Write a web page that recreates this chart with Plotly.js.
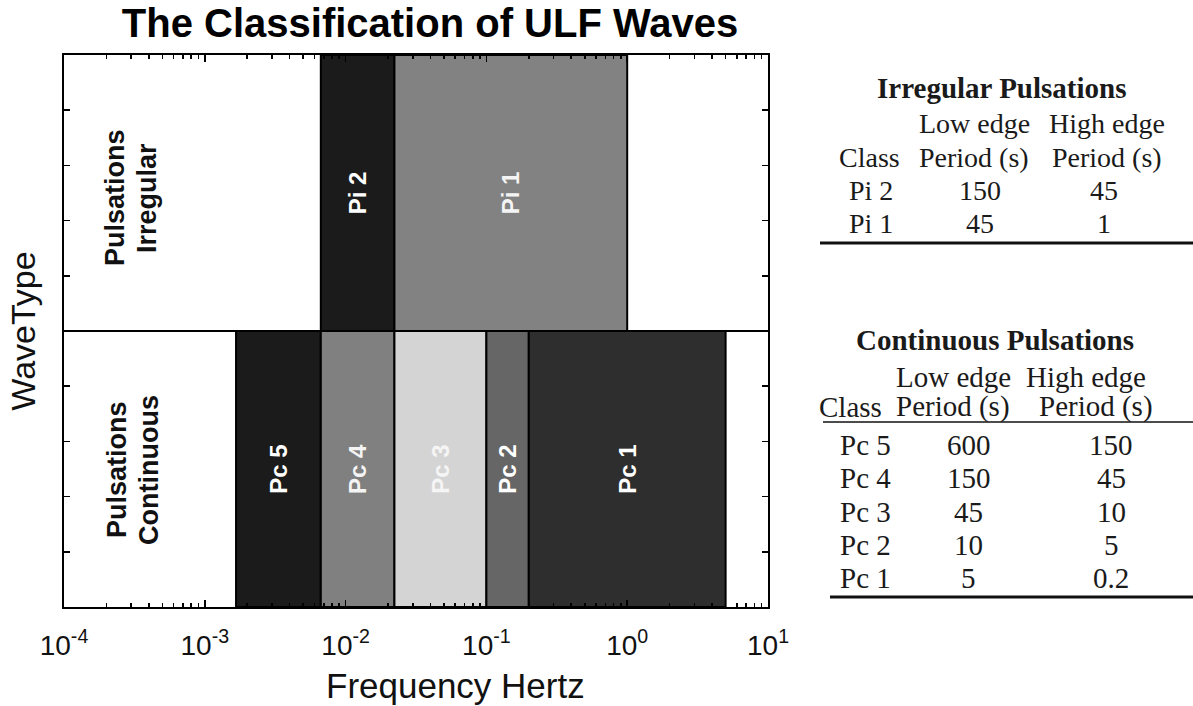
<!DOCTYPE html>
<html><head><meta charset="utf-8">
<script src="https://cdn.plot.ly/plotly-3.0.1.min.js"></script>
<style>html,body{margin:0;padding:0;background:#fff}#chart{width:1193px;height:706px}</style>
</head><body><div id="chart"></div>
<script>
// ---- data ----
const classes     = ['Pi 2','Pi 1','Pc 5','Pc 4','Pc 3','Pc 2','Pc 1'];
const waveTypes   = ['Irregular','Irregular','Continuous','Continuous','Continuous','Continuous','Continuous'];
const lowPeriod   = [150, 45, 600, 150, 45, 10, 5];    // seconds (low edge)
const highPeriod  = [45, 1, 150, 45, 10, 5, 0.2];      // seconds (high edge)
const lowLabel    = ['150','45','600','150','45','10','5'];
const highLabel   = ['45','1','150','45','10','5','0.2'];
const xTickVals   = [1e-4, 1e-3, 1e-2, 1e-1, 1, 10];
const xTickText   = ['10<sup>-4</sup>','10<sup>-3</sup>','10<sup>-2</sup>','10<sup>-1</sup>','10<sup>0</sup>','10<sup>1</sup>'];

// ---- styles ----
const barColors  = ['#1b1b1b','#828282','#1b1b1b','#808080','#d4d4d4','#666666','#2e2e2e'];
const textColors = ['#ffffff','#f4f4f4','#ffffff','#f4f4f4','#f5f5f5','#ffffff','#ffffff'];
const rowPos = {Irregular:1.5, Continuous:0.5};

const start = lowPeriod.map(p => 1/p);
const stop  = highPeriod.map(p => 1/p);

const trace = {
  type:'bar', orientation:'h',
  y: waveTypes.map(w => rowPos[w]),
  base: start,
  x: start.map((s,i) => stop[i]-s),
  width: 1,
  marker:{color:barColors, line:{color:'#000', width:2}},
  text: classes,
  textposition:'inside', insidetextanchor:'middle', textangle:-90,
  constraintext:'none',
  insidetextfont:{family:'Liberation Sans, Arial', size:24, color:textColors, weight:'bold'},
  hoverinfo:'skip', showlegend:false
};

const L=64, R=768, T=55, B=607;
const px = x => (x-L)/(R-L);
const py = y => (B-y)/(B-T);
const serif = 'Liberation Serif, Times New Roman, serif';
const sans = 'Liberation Sans, Arial, sans-serif';
const ann = [];
function txt(t, x, y, size, opts){
  ann.push(Object.assign({text:t, x:px(x), y:py(y), xref:'paper', yref:'paper', showarrow:false,
    xanchor:'center', yanchor:'middle', font:{family:serif, size:size||28, color:'#1a1a1a'}}, opts||{}));
}
function rot(t, x, y){
  ann.push({text:'<b>'+t+'</b>', x:px(x), y:py(y), xref:'paper', yref:'paper', showarrow:false, textangle:-90,
    xanchor:'center', yanchor:'middle', font:{family:sans, size:27, color:'#111'}});
}
// row labels inside plot
rot('Pulsations', 115, 198); rot('Irregular', 147, 198);
rot('Pulsations', 117, 470); rot('Continuous', 149, 470);

// x axis title (offset to the right as in the reference)
ann.push({text:'Frequency Hertz', x:px(455), y:py(685), xref:'paper', yref:'paper', showarrow:false,
  xanchor:'center', yanchor:'middle', font:{family:sans, size:35, color:'#111'}});

// Table 1: irregular
txt('<b>Irregular Pulsations</b>', 1001, 88, 29);
txt('Low edge', 974, 123); txt('High edge', 1107, 123);
txt('Class', 870, 157); txt('Period (s)', 974, 157); txt('Period (s)', 1107, 157);
let r = 0;
classes.forEach((c,i)=>{ if(waveTypes[i]==='Irregular'){ const y=190+r*33;
  txt(c, 871, y); txt(lowLabel[i], 980, y); txt(highLabel[i], 1104, y); r++; }});
// Table 2: continuous
txt('<b>Continuous Pulsations</b>', 995, 340, 29);
txt('Low edge', 953, 377, 29); txt('High edge', 1086, 377, 29);
txt('Class', 850, 407, 29); txt('Period (s)', 953, 407, 29); txt('Period (s)', 1096, 407, 29);
r = 0;
classes.forEach((c,i)=>{ if(waveTypes[i]==='Continuous'){ const y=445+r*33.3;
  txt(c, 865, y, 29); txt(lowLabel[i], 969, y, 29); txt(highLabel[i], 1111, y, 29); r++; }});

const shapes = [
  {type:'line', xref:'paper', yref:'y', x0:0, x1:1, y0:1, y1:1, line:{color:'#000', width:2}},
  {type:'line', xref:'paper', yref:'paper', x0:px(820), x1:px(1193), y0:py(243), y1:py(243), line:{color:'#111', width:3}},
  {type:'line', xref:'paper', yref:'paper', x0:px(823), x1:px(1193), y0:py(422), y1:py(422), line:{color:'#111', width:1.5}},
  {type:'line', xref:'paper', yref:'paper', x0:px(830), x1:px(1193), y0:py(597), y1:py(597), line:{color:'#111', width:3}}
];

const layout = {
  width:1193, height:706,
  margin:{l:L, r:1193-R, t:T, b:706-B},
  paper_bgcolor:'#fff', plot_bgcolor:'#fff',
  barmode:'overlay',
  title:{text:'<b>The Classification of ULF Waves</b>', xref:'container', yref:'container', x:430/1193, y:1-23/706,
    xanchor:'center', yanchor:'middle', font:{family:sans, size:40, color:'#000'}},
  xaxis:{type:'log', range:[-4,1], tickvals:xTickVals, ticktext:xTickText, ticks:'inside', ticklen:7, tickwidth:1.5,
    tickcolor:'#000', showline:true, linecolor:'#000', linewidth:2, mirror:'ticks', showgrid:false, zeroline:false,
    ticklabelstandoff:12,
    minor:{ticks:'inside', ticklen:4, tickcolor:'#000', dtick:'D1', showgrid:false},
    tickfont:{family:sans, size:28, color:'#111'}},
  yaxis:{range:[0,2], dtick:0.2, tick0:0, ticks:'inside', ticklen:6, tickwidth:1.5, tickcolor:'#000',
    showticklabels:false, showline:true, linecolor:'#000', linewidth:2, mirror:'ticks', showgrid:false, zeroline:false,
    fixedrange:true,
    title:{text:'WaveType', standoff:16, font:{family:sans, size:34, color:'#111'}}},
  annotations: ann,
  shapes: shapes
};
Plotly.newPlot('chart', [trace], layout, {staticPlot:true});
</script></body></html>
